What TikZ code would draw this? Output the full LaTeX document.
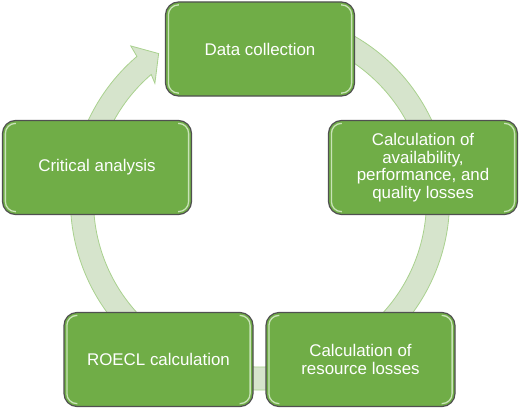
\documentclass[tikz,border=0pt]{standalone}
\usepackage{fontspec}
\setmainfont{Liberation Sans}
\usetikzlibrary{calc}
\definecolor{boxgreen}{HTML}{70AD47}
\definecolor{boxedge}{HTML}{505050}
\definecolor{hilite}{HTML}{C9E3B8}
\definecolor{bandfill}{HTML}{D6E4CC}
\definecolor{bandedge}{HTML}{A9D18E}
\tikzset{
  stepbox/.style={draw=boxedge, line width=1.2bp, fill=boxgreen, rounded corners=13bp,
    minimum width=189bp, minimum height=94bp, inner sep=0pt, align=center, text=white,
    font=\fontsize{16.9bp}{17.6bp}\selectfont},
  hl/.style={draw=hilite, line width=1.3bp, rounded corners=10bp},
  band/.style={fill=bandfill, draw=bandedge, line width=0.8bp},
}
\newcommand\boxhl[1]{%
  \draw[hl] ($(#1.north west)+(14,-3.5)$) -- ($(#1.north west)+(3.5,-3.5)$)
     -- ($(#1.south west)+(3.5,3.5)$) -- ($(#1.south west)+(14,3.5)$);
  \draw[hl] ($(#1.north east)+(-14,-3.5)$) -- ($(#1.north east)+(-3.5,-3.5)$)
     -- ($(#1.south east)+(-3.5,3.5)$) -- ($(#1.south east)+(-14,3.5)$);
}
\begin{document}
\begin{tikzpicture}[x=1bp,y=1bp]
  \useasboundingbox (0,0) rectangle (520,409);
  % continuous cycle arrow
  \begin{scope}[shift={(260,208.5)}]
    \path[band] (70:189.5bp) arc[start angle=70, end angle=-229.5, radius=189.5bp]
      -- (129.9:201.5bp) -- (124.6:178.5bp) -- (131.9:157.4bp) -- (130.8:166.5bp)
      arc[start angle=-229.2, end angle=70, radius=166.5bp] -- cycle;
  \end{scope}
  % steps
  \node[stepbox] (dc)    at (260,360)    {Data collection};
  \node[stepbox] (calc)  at (423,241.5)  {Calculation of\\availability,\\performance, and\\quality losses};
  \node[stepbox] (res)   at (360.5,49.5) {Calculation of\\resource losses};
  \node[stepbox] (roecl) at (158.5,49.5) {ROECL calculation};
  \node[stepbox] (crit)  at (97,241.5)   {Critical analysis};
  \boxhl{dc}\boxhl{calc}\boxhl{res}\boxhl{roecl}\boxhl{crit}
\end{tikzpicture}
\end{document}
